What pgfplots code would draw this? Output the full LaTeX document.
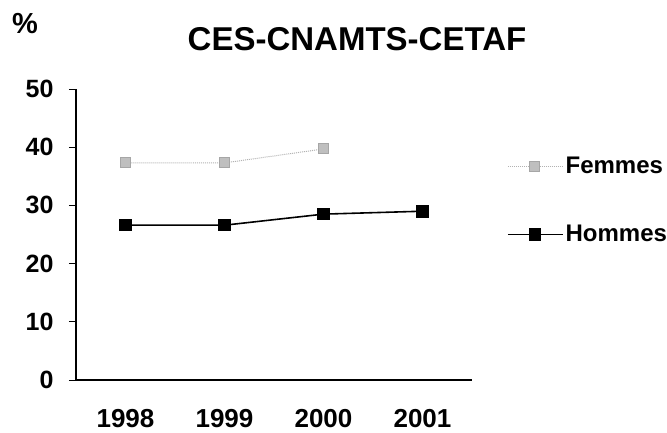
\documentclass[border=0pt]{standalone}
\usepackage{fontspec}
\setmainfont{Liberation Sans}
\usepackage{pgfplots}
\pgfplotsset{compat=1.18}
\newcommand{\yl}{\fontsize{25bp}{27bp}\selectfont\bfseries}
\newcommand{\xl}{\fontsize{26bp}{28bp}\selectfont\bfseries}
\begin{document}
\begin{tikzpicture}
\useasboundingbox (-76bp,-53bp) rectangle (591bp,380bp);
\begin{axis}[
  at={(0,0)}, anchor=south west,
  scale only axis, width=396bp, height=291bp,
  axis lines=left, axis line style={line width=1.1pt, -},
  xmin=-0.5, xmax=3.5, ymin=0, ymax=50,
  xtick={0,1,2,3}, xticklabels={{\xl 1998},{\xl 1999},{\xl 2000},{\xl 2001}},
  major x tick style={draw=none},
  extra x ticks={0.5,1.5,2.5,3.5}, extra x tick labels={},
  extra x tick style={major tick length=7bp, tick style={line width=1pt, black}},
  ytick={0,10,20,30,40,50},
  yticklabels={{\yl 0},{\yl 10},{\yl 20},{\yl 30},{\yl 40},{\yl 50}},
  tick align=outside, major tick length=7bp,
  tick style={line width=1pt, black},
  yticklabel style={xshift=-12bp},
  xticklabel style={yshift=-19bp},
  clip=false,
  legend style={draw=none, fill=none, at={(1.088,0.617)}, anchor=west, inner sep=0pt,
    font=\fontsize{24bp}{26bp}\selectfont\bfseries, row sep=46bp,
    legend cell align=left},
  legend image code/.code={\draw[mark repeat=2,mark phase=2,#1] plot coordinates {(0bp,0bp) (27bp,0bp) (55bp,0bp)};},
]
\addplot[black!30, densely dotted, line width=1pt, mark=square*, mark size=5bp,
  mark options={solid, fill=black!25, draw=black!35}]
  coordinates {(0,37.3) (1,37.3) (2,39.7)};
\addlegendentry{Femmes}
\addplot[black, line width=1.6pt, mark=square*, mark size=5.5bp, mark options={solid, fill=black}]
  coordinates {(0,26.6) (1,26.6) (2,28.5) (3,29.0)};
\addlegendentry{Hommes}
\end{axis}
\node[font=\fontsize{33bp}{35bp}\selectfont\bfseries] at (281bp,341bp) {CES-CNAMTS-CETAF};
\node[font=\fontsize{29bp}{31bp}\selectfont\bfseries] at (-51bp,356bp) {\%};
\end{tikzpicture}
\end{document}
